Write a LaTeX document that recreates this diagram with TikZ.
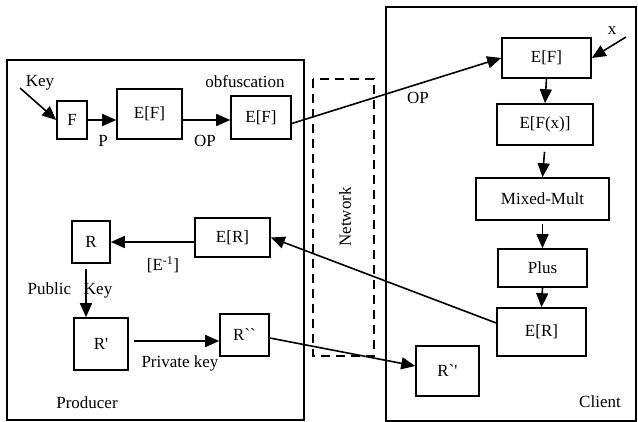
\documentclass[tikz,border=0pt]{standalone}
\usepackage{fontspec}
\setmainfont{Liberation Serif}
\newfontfamily\plainquotes{Liberation Serif}[Ligatures=TeXOff]
\usetikzlibrary{arrows.meta}

\begin{document}
\begin{tikzpicture}[x=1pt, y=-1pt, line width=1.6pt,
  font=\fontsize{17}{19}\selectfont,
  box/.style={draw, rectangle, inner sep=0pt},
  arr/.style={-{Triangle[length=14pt, width=12pt]}},
  lbl/.style={inner sep=0pt}]

 \useasboundingbox (0,0) rectangle (638,422) ;

 %%%%%%%%%% Frames %%%%%%%%%%
 \draw (7,60) rectangle (304,420) ;
 \draw (386,7) rectangle (636,421) ;
 \draw [dashed, dash pattern=on 9pt off 6pt] (313,79) rectangle (374,356) ;
 \node [lbl, rotate=90] (network) at (345,217) {Network} ;

 %%%%%%%%%% Producer %%%%%%%%%%
 \node [box, minimum width=30, minimum height=38] (F) at (72,120) {F} ;
 \node [box, minimum width=65, minimum height=50] (EF1) at (149.5,114) {E[F]} ;
 \node [box, minimum width=60, minimum height=43] (EF2) at (261,117.5) {E[F]} ;
 \node [box, minimum width=38, minimum height=42] (R) at (91,242) {R} ;
 \node [box, minimum width=75, minimum height=39] (ERp) at (232.5,237.5) {E[R]} ;
 \node [box, minimum width=54, minimum height=52] (Rp) at (101,344) {\plainquotes R'} ;
 \node [box, minimum width=49, minimum height=42] (Rpp) at (244.5,335) {\plainquotes R``} ;

 \coordinate (keyin) at (20,88) ;
 \node [lbl] (key) at (40,83) {Key} ;
 \node [lbl] (obf) at (245,82) {obfuscation} ;
 \node [lbl] (p) at (103,141) {P} ;
 \node [lbl] (op1) at (205,141) {OP} ;
 \node [lbl] (einv) at (163,265) {[E\textsuperscript{-1}]} ;
 \node [lbl] (pubkey) at (70,290) {Public\ \ \ Key} ;
 \node [lbl] (privkey) at (180,363) {Private key} ;
 \node [lbl] (producer) at (87,403) {Producer} ;

 \draw [arr] (keyin) -- (F.west) ;
 \draw [arr] (F.east) -- (F.east -| EF1.west) ;
 \draw [arr] (EF1.east |- F.east) -- (EF2.west |- F.east) ;
 \draw [arr] (ERp.west |- R.east) -- (R.east) ;
 \draw [arr, shorten <=5pt] ([xshift=-5]R.south) -- ([xshift=-5]R.south |- Rp.north) ;
 \draw [arr, shorten <=5pt] (Rp.east |- 0,341) -- (Rpp.west |- 0,341) ;

 %%%%%%%%%% Client %%%%%%%%%%
 \node [box, minimum width=89, minimum height=40] (EFc) at (546.5,58) {E[F]} ;
 \node [box, minimum width=96, minimum height=41] (EFx) at (545,124.5) {E[F(x)]} ;
 \node [box, minimum width=133, minimum height=42] (MM) at (542.5,199) {Mixed-Mult} ;
 \node [box, minimum width=89, minimum height=38] (plus) at (542.5,268) {Plus} ;
 \node [box, minimum width=89, minimum height=48] (ERc) at (541.5,332) {E[R]} ;
 \node [box, minimum width=63, minimum height=50] (Rc) at (447.5,371) {\plainquotes R`'} ;

 \coordinate (xin) at (626,37) ;
 \node [lbl] (x) at (612,31) {x} ;
 \node [lbl] (op2) at (418,98) {OP} ;
 \node [lbl] (client) at (600,402) {Client} ;

 \draw [arr] (xin) -- (EFc.east) ;
 \draw [arr] (EFc.south) -- (EFx.north) ;
 \draw [arr, shorten <=6pt] (EFx.south) -- (MM.north) ;
 \draw [arr, shorten <=3pt] (MM.south) -- (plus.north) ;
 \draw [arr] (plus.south) -- (ERc.north) ;

 %%%%%%%%%% Over the network %%%%%%%%%%
 \draw [arr] ([yshift=-6]EF2.east) -- (EFc.west) ;
 \draw [arr] ([yshift=9]ERc.west) -- (ERp.east) ;
 \draw [arr] ([yshift=-3]Rpp.east) -- ([yshift=5]Rc.west) ;

\end{tikzpicture}
\end{document}
